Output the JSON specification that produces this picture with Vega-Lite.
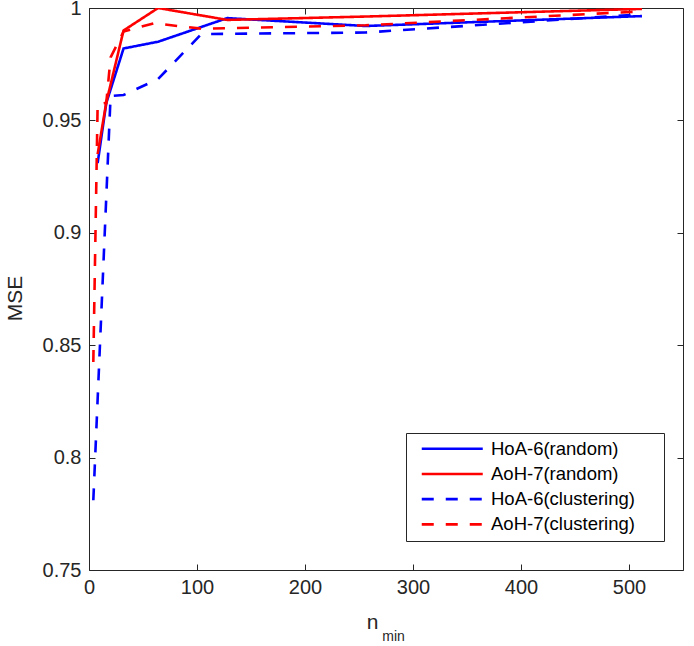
{
  "$schema": "https://vega.github.io/schema/vega-lite/v6.json",
  "autosize": "none",
  "width": 594,
  "height": 562,
  "padding": {"left": 89, "top": 8, "right": 11, "bottom": 76},
  "background": "white",
  "config": {
    "view": {"stroke": null},
    "font": "Liberation Sans",
    "axis": {
      "grid": false,
      "domainColor": "#262626",
      "domainWidth": 1,
      "tickColor": "#262626",
      "tickWidth": 1,
      "tickSize": -6,
      "labelColor": "#262626",
      "labelFont": "Liberation Sans",
      "labelFontSize": 20,
      "titleFont": "Liberation Sans",
      "titleColor": "#262626",
      "titleFontWeight": "normal",
      "labelFlush": false,
      "labelOverlap": false
    },
    "legend": {
      "orient": "none",
      "legendX": 317,
      "legendY": 425,
      "symbolType": "M0,0H12",
      "symbolSize": 103.4,
      "symbolStrokeWidth": 2.6,
      "labelFont": "Liberation Sans",
      "labelFontSize": 18.5,
      "labelColor": "#000000",
      "labelOffset": 60,
      "labelLimit": 400,
      "titleOrient": "right",
      "titleOpacity": 0,
      "titleFontSize": 10,
      "titlePadding": 20,
      "strokeColor": "#262626",
      "fillColor": "#ffffff",
      "padding": 6.5,
      "rowPadding": 6.2
    }
  },
  "data": {
    "values": [
      {"series": "HoA-6(random)", "n": 8, "mse": 0.931},
      {"series": "HoA-6(random)", "n": 16, "mse": 0.9577},
      {"series": "HoA-6(random)", "n": 32, "mse": 0.982},
      {"series": "HoA-6(random)", "n": 64, "mse": 0.985},
      {"series": "HoA-6(random)", "n": 128, "mse": 0.9955},
      {"series": "HoA-6(random)", "n": 256, "mse": 0.992},
      {"series": "HoA-6(random)", "n": 512, "mse": 0.9964},
      {"series": "AoH-7(random)", "n": 8, "mse": 0.935},
      {"series": "AoH-7(random)", "n": 16, "mse": 0.958},
      {"series": "AoH-7(random)", "n": 32, "mse": 0.99},
      {"series": "AoH-7(random)", "n": 64, "mse": 1.0},
      {"series": "AoH-7(random)", "n": 128, "mse": 0.9947},
      {"series": "AoH-7(random)", "n": 256, "mse": 0.9962},
      {"series": "AoH-7(random)", "n": 512, "mse": 0.9996},
      {"series": "HoA-6(clustering)", "n": 4, "mse": 0.781},
      {"series": "HoA-6(clustering)", "n": 20, "mse": 0.9609},
      {"series": "HoA-6(clustering)", "n": 32, "mse": 0.9613},
      {"series": "HoA-6(clustering)", "n": 64, "mse": 0.9684},
      {"series": "HoA-6(clustering)", "n": 104, "mse": 0.9884},
      {"series": "HoA-6(clustering)", "n": 256, "mse": 0.9891},
      {"series": "HoA-6(clustering)", "n": 512, "mse": 0.9972},
      {"series": "AoH-7(clustering)", "n": 4, "mse": 0.8425},
      {"series": "AoH-7(clustering)", "n": 8, "mse": 0.9572},
      {"series": "AoH-7(clustering)", "n": 16, "mse": 0.9578},
      {"series": "AoH-7(clustering)", "n": 20, "mse": 0.978},
      {"series": "AoH-7(clustering)", "n": 32, "mse": 0.9895},
      {"series": "AoH-7(clustering)", "n": 60, "mse": 0.9932},
      {"series": "AoH-7(clustering)", "n": 104, "mse": 0.9908},
      {"series": "AoH-7(clustering)", "n": 256, "mse": 0.9923},
      {"series": "AoH-7(clustering)", "n": 512, "mse": 0.9985}
    ]
  },
  "resolve": {"axis": {"x": "independent", "y": "independent"}},
  "layer": [
    {
      "mark": {"type": "line", "strokeWidth": 2.6, "clip": true},
      "encoding": {
        "x": {
          "field": "n", "type": "quantitative",
          "scale": {"domain": [0, 550], "nice": false, "zero": false},
          "axis": {
            "orient": "bottom",
            "values": [0, 100, 200, 300, 400, 500],
            "labelPadding": 13,
            "title": "n",
            "titleFontSize": 21,
            "titleX": 283,
            "titleY": 58,
            "titleAnchor": "middle",
            "titleAlign": "center",
            "titleBaseline": "alphabetic"
          }
        },
        "y": {
          "field": "mse", "type": "quantitative",
          "scale": {"domain": [0.75, 1], "nice": false, "zero": false},
          "axis": {
            "orient": "left",
            "values": [0.75, 0.8, 0.85, 0.9, 0.95, 1],
            "format": "~g",
            "labelPadding": 14,
            "title": "MSE",
            "titleFontSize": 21,
            "titleAngle": 270,
            "titleX": -74,
            "titleY": 290,
            "titleAlign": "center",
            "titleBaseline": "middle"
          }
        },
        "color": {
          "field": "series", "type": "nominal",
          "scale": {
            "domain": ["HoA-6(random)", "AoH-7(random)", "HoA-6(clustering)", "AoH-7(clustering)"],
            "range": ["#0000ff", "#ff0000", "#0000ff", "#ff0000"]
          },
          "legend": {"title": "."}
        },
        "strokeDash": {
          "field": "series", "type": "nominal",
          "scale": {
            "domain": ["HoA-6(random)", "AoH-7(random)", "HoA-6(clustering)", "AoH-7(clustering)"],
            "range": [[1, 0], [1, 0], [12, 12], [12, 12]]
          },
          "legend": {"title": "."}
        }
      }
    },
    {
      "mark": {"type": "line", "strokeOpacity": 0},
      "encoding": {
        "x": {
          "field": "n", "type": "quantitative",
          "axis": {"orient": "top", "values": [0, 100, 200, 300, 400, 500], "labels": false, "title": null}
        },
        "y": {
          "field": "mse", "type": "quantitative",
          "axis": {"orient": "right", "values": [0.75, 0.8, 0.85, 0.9, 0.95, 1], "labels": false, "title": null}
        },
        "detail": {"field": "series"}
      }
    },
    {
      "mark": {"type": "line", "strokeOpacity": 0},
      "encoding": {
        "x": {
          "field": "n", "type": "quantitative",
          "axis": {
            "orient": "bottom", "labels": false, "ticks": false, "domain": false,
            "title": "min",
            "titleFontSize": 14,
            "titleX": 304,
            "titleY": 70,
            "titleAlign": "center",
            "titleBaseline": "alphabetic"
          }
        },
        "y": {"field": "mse", "type": "quantitative", "axis": null},
        "detail": {"field": "series"}
      }
    }
  ]
}
